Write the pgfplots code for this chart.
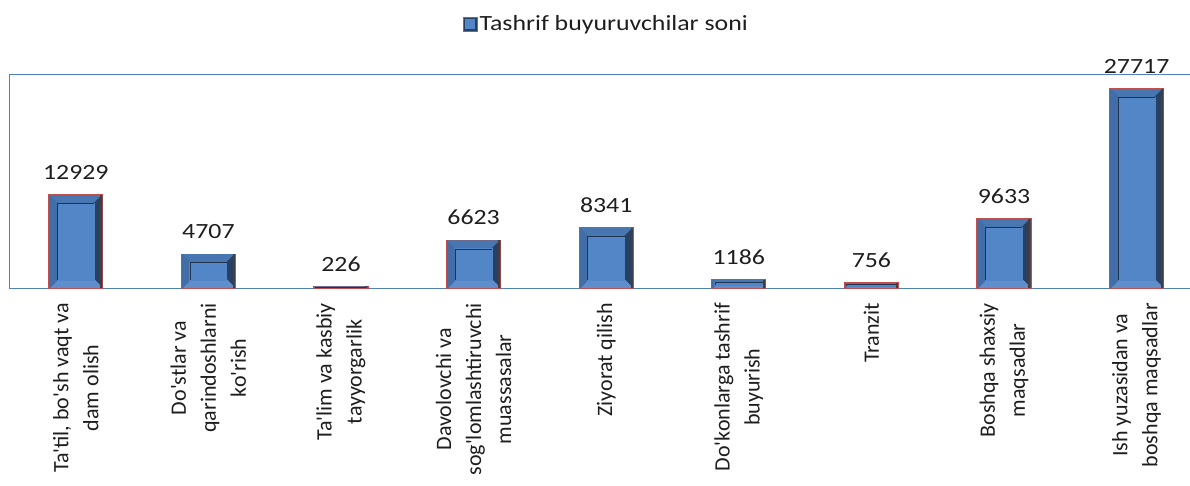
\documentclass[border=0pt]{standalone}
\usepackage{pgfplots}
\pgfplotsset{compat=1.18}
\usepackage{pgfplotstable}
\usepackage{fontspec}
\setmainfont{Carlito}
\newfontfamily\stretched{Carlito}[FakeStretch=1.19]
\newcommand\q{\textquotesingle}
\definecolor{barred}{RGB}{192,80,77}
\definecolor{boxblue}{RGB}{79,129,189}
\definecolor{bevT}{RGB}{72,118,176}
\definecolor{bevL}{RGB}{66,110,168}
\definecolor{bevR}{RGB}{40,64,100}
\definecolor{bevB}{RGB}{96,142,204}
\definecolor{bevIn}{RGB}{82,134,198}
\definecolor{lbl}{RGB}{30,30,30}
\pgfplotstableread{
x v
0 12929
1 4707
2 226
3 6623
4 8341
5 1186
6 756
7 9633
8 27717
}\data
\begin{document}
\begin{tikzpicture}
\begin{axis}[
  scale only axis, width=1193.4pt, height=214pt,
  xmin=-0.5, xmax=8.5, ymin=0, ymax=29750,
  axis line style={draw=boxblue, line width=0.9pt},
  ytick=\empty,
  xtick={0,...,8},
  xticklabels={
    {Ta\q{}til, bo\q{}sh vaqt va\\dam olish},
    {Do\q{}stlar va\\qarindoshlarni\\ko\q{}rish},
    {Ta\q{}lim va kasbiy\\tayyorgarlik},
    {Davolovchi va\\sog\q{}lomlashtiruvchi\\muassasalar},
    {Ziyorat qilish},
    {Do\q{}konlarga tashrif\\buyurish},
    {Tranzit},
    {Boshqa shaxsiy\\maqsadlar},
    {Ish yuzasidan va\\boshqa maqsadlar}},
  major tick length=0pt,
  xticklabel style={rotate=90, anchor=east, align=center, inner sep=0pt,
    font=\fontsize{22}{30}\selectfont, text=lbl},
  xticklabel shift=15pt,
  clip=false,
  legend style={at={(0.5,1.2336)}, anchor=center, draw=none, fill=none,
    font=\fontsize{21.7}{26}\stretched, text=lbl},
]
\addplot[ybar, bar width=54pt, bar shift=0pt, fill=bevL, draw=barred, line width=1.2pt,
  legend image code/.code={
    \draw[barred, fill=bevR, line width=1pt] (0pt,-7pt) rectangle (14pt,7pt);
    \fill[bevIn] (3pt,-4pt) rectangle (11pt,4pt);},
  visualization depends on={\thisrow{v}*0.00719328 \as \hpt},
  nodes near coords={},
  every node near coord/.append style={anchor=north, yshift=-0.6pt, inner sep=0pt,
    outer sep=0pt, minimum width=52.8pt, minimum height={\hpt*1pt-0.6pt},
    draw=none, fill=none,
    path picture={
      \pgfmathsetmacro\bv{min(8,0.3*\hpt)}
      \fill[bevT] (path picture bounding box.north west)
        -- (path picture bounding box.north east)
        -- ([shift={(-\bv pt,-\bv pt)}]path picture bounding box.north east)
        -- ([shift={(\bv pt,-\bv pt)}]path picture bounding box.north west) -- cycle;
      \fill[bevR] (path picture bounding box.north east)
        -- (path picture bounding box.south east)
        -- ([shift={(-\bv pt,\bv pt)}]path picture bounding box.south east)
        -- ([shift={(-\bv pt,-\bv pt)}]path picture bounding box.north east) -- cycle;
      \fill[bevB] (path picture bounding box.south east)
        -- (path picture bounding box.south west)
        -- ([shift={(\bv pt,\bv pt)}]path picture bounding box.south west)
        -- ([shift={(-\bv pt,\bv pt)}]path picture bounding box.south east) -- cycle;
      \fill[bevL] (path picture bounding box.south west)
        -- (path picture bounding box.north west)
        -- ([shift={(\bv pt,-\bv pt)}]path picture bounding box.north west)
        -- ([shift={(\bv pt,\bv pt)}]path picture bounding box.south west) -- cycle;
      \fill[bevIn] ([shift={(\bv pt,\bv pt)}]path picture bounding box.south west)
        rectangle ([shift={(-\bv pt,-\bv pt)}]path picture bounding box.north east);
      \draw[bevR!80!black, line width=0.8pt, fill=none]
        ([shift={(\bv pt,\bv pt)}]path picture bounding box.south west)
        -- ([shift={(\bv pt,-\bv pt)}]path picture bounding box.north west)
        -- ([shift={(-\bv pt,-\bv pt)}]path picture bounding box.north east);
      \fill[black!75] ([xshift=-1.5pt]path picture bounding box.south east)
        rectangle (path picture bounding box.north east);
    }},
] table[x=x, y=v] {\data};
\addlegendentry{Tashrif buyuruvchilar soni}
\addplot[forget plot, draw=none, mark=none, point meta=explicit symbolic,
  nodes near coords,
  every node near coord/.append style={anchor=south, inner sep=0pt, yshift=15pt,
    font=\fontsize{21.7}{26}\stretched, text=lbl}]
  table[x=x, y=v, meta=v] {\data};
\coordinate (bl) at (rel axis cs:0,0);
\end{axis}
\pgfresetboundingbox
\path[use as bounding box] ([xshift=-9.5pt,yshift=-198pt]bl) rectangle +(1190pt,486pt);
\end{tikzpicture}
\end{document}
